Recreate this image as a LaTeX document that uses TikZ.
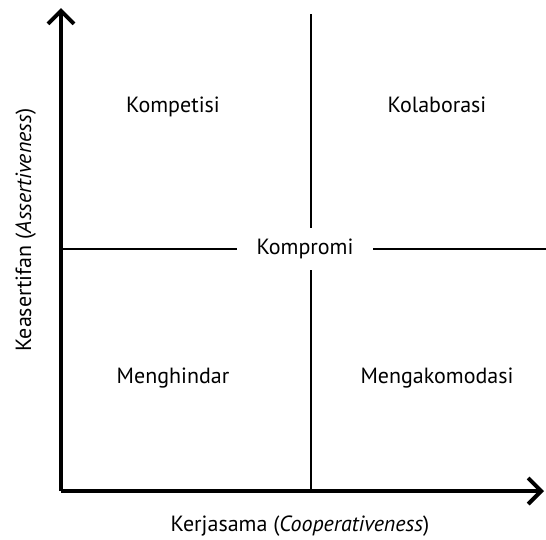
\documentclass[tikz,border=0pt]{standalone}
\usepackage{fontspec}
\setmainfont{PT Sans}
\usetikzlibrary{arrows.meta}
\begin{document}
\begin{tikzpicture}[x=1pt, y=-1pt, >={Straight Barb[length=13pt, width=26pt]},
    axis/.style={line width=4pt},
    divider/.style={line width=2.5pt},
    label/.style={font=\fontsize{22}{26}\selectfont, anchor=base, inner sep=0pt}]
    \useasboundingbox (0,0) rectangle (546,539);

    % Nodes
    \coordinate (o) at (61, 491);
    \coordinate (ytip) at (61, 8);
    \coordinate (xtip) at (544, 491);
    \coordinate (vtop) at (311, 14);
    \coordinate (vbot) at (311, 489);
    \coordinate (hleft) at (61, 249);
    \coordinate (hright) at (546, 249);
    \node[font=\fontsize{22}{26}\selectfont, minimum width=136pt, minimum height=42pt,
        text height=16pt, text depth=5pt, inner sep=0pt] at (305, 249) (komp) {Kompromi};
    \node[label] at (173, 112) (kompet) {Kompetisi};
    \node[label] at (437, 112) (kolab) {Kolaborasi};
    \node[label] at (173, 383) (hindar) {Menghindar};
    \node[label] at (437, 383) (akomo) {Mengakomodasi};
    \node[label] at (300, 531) (xlab) {Kerjasama (\textit{Cooperativeness})};
    \node[label, rotate=90] at (31, 230) (ylab) {Keasertifan (\textit{Assertiveness})};

    % Edges
    \draw[divider] (vtop) -- (vtop |- komp.north);
    \draw[divider] (vbot |- komp.south) -- (vbot);
    \draw[divider] (hleft) -- (komp.west);
    \draw[divider] (komp.east) -- (hright);
    \draw[axis, ->] (o) -- (ytip);
    \draw[axis, ->] (o) -- (xtip);
\end{tikzpicture}
\end{document}
